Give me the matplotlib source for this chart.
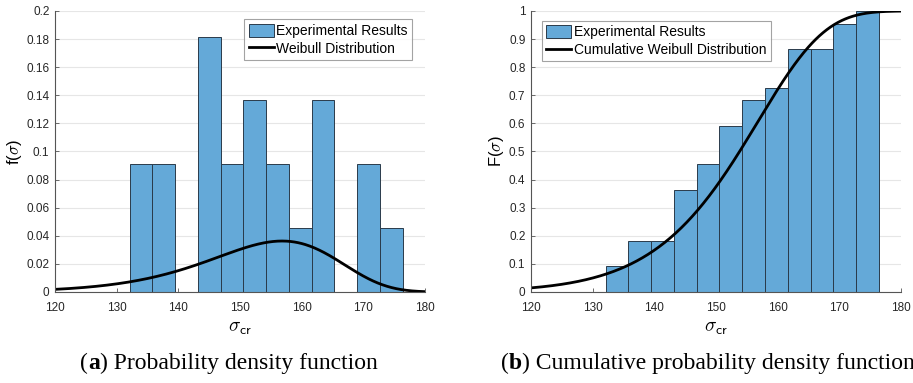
import numpy as np
import matplotlib
matplotlib.use("Agg")
import matplotlib.pyplot as plt

plt.rcParams["font.family"] = ["Liberation Sans", "DejaVu Sans"]
plt.rcParams["mathtext.fontset"] = "cm"

# 直方图分箱 (12 个等宽区间) 与各区间样本数, 共 22 个试件
bin_lo, bin_hi = 132.1, 176.4
counts = [2, 2, 0, 4, 2, 3, 2, 1, 3, 0, 2, 1]
n_samples = 22

# 拟合得到的 Weibull 参数
weib_shape = 15.5
weib_scale = 157.5

x_ticks = [120, 130, 140, 150, 160, 170, 180]
y_ticks_pdf = [0, 0.02, 0.04, 0.06, 0.08, 0.1, 0.12, 0.14, 0.16, 0.18, 0.2]
y_ticks_cdf = [0, 0.1, 0.2, 0.3, 0.4, 0.5, 0.6, 0.7, 0.8, 0.9, 1]

bar_face = "#64a9d8"
bar_edge = "#2a3b4a"
axis_gray = "#555555"

edges = np.linspace(bin_lo, bin_hi, len(counts) + 1)
width = edges[1] - edges[0]
prob = np.array(counts) / n_samples
cum = np.cumsum(prob)

s = np.linspace(120, 180, 400)
z = s / weib_scale
pdf = (weib_shape / weib_scale) * z ** (weib_shape - 1) * np.exp(-z ** weib_shape)
cdf = 1 - np.exp(-z ** weib_shape)


def style_axes(ax, yticks, ylabel):
    ax.set_xlim(120, 180)
    ax.set_ylim(yticks[0], yticks[-1])
    ax.set_xticks(x_ticks)
    ax.set_yticks(yticks)
    ax.set_yticklabels([f"{v:g}" for v in yticks])
    for side in ["top", "right"]:
        ax.spines[side].set_visible(False)
    for side in ["left", "bottom"]:
        ax.spines[side].set_color(axis_gray)
        ax.spines[side].set_linewidth(0.8)
    ax.tick_params(direction="in", length=3, width=0.6, colors=axis_gray,
                   labelsize=8.5, labelcolor="#262626")
    ax.tick_params(axis="x", pad=7)
    ax.tick_params(axis="y", pad=4)
    ax.grid(True, axis="y", color="#e6e6e6", linewidth=0.8)
    ax.set_axisbelow(True)
    ax.set_ylabel(ylabel, fontsize=12, labelpad=2)
    ax.set_xlabel(r"$\sigma_{\mathsf{cr}}$", fontsize=14, labelpad=4)


def add_legend(ax, bars, line, **kw):
    leg = ax.legend([bars, line], [bars.get_label(), line.get_label()],
                    fontsize=10, frameon=True, fancybox=False, borderpad=0.3,
                    handlelength=1.8, handleheight=1.1, handletextpad=0.2,
                    labelspacing=0.25, borderaxespad=0, **kw)
    leg.get_frame().set_edgecolor("#8c8c8c")
    leg.get_frame().set_linewidth(0.8)


fig = plt.figure(figsize=(9.13, 3.83), dpi=100)
ax1 = fig.add_axes([0.0602, 0.2376, 0.4053, 0.7337])
ax2 = fig.add_axes([0.5816, 0.2376, 0.4053, 0.7337])

# (a) 概率密度
b1 = ax1.bar(edges[:-1], prob, width=width, align="edge", color=bar_face,
             edgecolor=bar_edge, linewidth=0.7, label="Experimental Results")
l1, = ax1.plot(s, pdf, color="black", linewidth=2, label="Weibull Distribution")
style_axes(ax1, y_ticks_pdf, r"f($\sigma$)")
add_legend(ax1, b1, l1, loc="upper right", bbox_to_anchor=(0.965, 0.97))

# (b) 累积分布
b2 = ax2.bar(edges[:-1], cum, width=width, align="edge", color=bar_face,
             edgecolor=bar_edge, linewidth=0.7, label="Experimental Results")
l2, = ax2.plot(s, cdf, color="black", linewidth=2, label="Cumulative Weibull Distribution")
style_axes(ax2, y_ticks_cdf, r"F($\sigma$)")
add_legend(ax2, b2, l2, loc="upper left", bbox_to_anchor=(0.03, 0.965))

# 子图标题: "(a)" 中字母加粗, 其余正常字重
serif = ["Liberation Serif", "DejaVu Serif"]
cap_y = 0.052
cap_fs = 17
for x0, tag, caption in [(0.088, "a", "Probability density function"),
                         (0.549, "b", "Cumulative probability density function")]:
    t = fig.text(x0, cap_y, "(", fontsize=cap_fs, family=serif, va="center", ha="left")
    fig.canvas.draw()
    x = t.get_window_extent().x1 / fig.bbox.width
    t = fig.text(x, cap_y, tag, fontsize=cap_fs, family=serif, fontweight="bold",
                 va="center", ha="left")
    fig.canvas.draw()
    x = t.get_window_extent().x1 / fig.bbox.width
    fig.text(x, cap_y, ") " + caption, fontsize=cap_fs, family=serif,
             va="center", ha="left")

fig.savefig("out.png", dpi=100)
